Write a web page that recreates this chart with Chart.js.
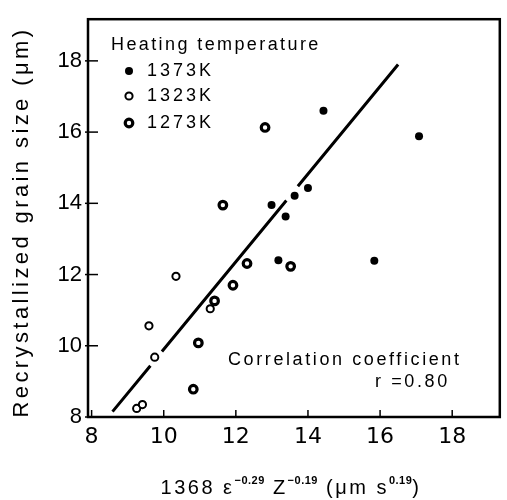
<!DOCTYPE html>
<html>
<head>
<meta charset="utf-8">
<script src="https://cdn.jsdelivr.net/npm/chart.js@4.4.1/dist/chart.umd.min.js"></script>
<style>
  html, body { margin: 0; padding: 0; background: #fff; }
  #wrap { width: 507px; height: 500px; }
</style>
</head>
<body>
<div id="wrap"><canvas id="chart" width="507" height="500"></canvas></div>
<script>
// tick labels
const xTicks = [8, 10, 12, 14, 16, 18];
const yTicks = [8, 10, 12, 14, 16, 18];

// 1373K (filled dots)
const hotX = [12.99, 13.38, 13.63, 14.00, 13.18, 15.84, 14.43, 17.08];
const hotY = [13.95, 13.63, 14.21, 14.43, 12.40, 12.39, 16.60, 15.88];

// 1323K (thin rings)
const midX = [10.34, 11.29, 9.59, 9.75, 9.25, 9.41];
const midY = [11.95, 11.04, 10.56, 9.68, 8.24, 8.35];

// 1273K (heavy rings)
const lowX = [11.64, 12.81, 13.52, 12.31, 11.92, 10.96, 10.82, 11.41];
const lowY = [13.95, 16.13, 12.23, 12.31, 11.70, 10.08, 8.78, 11.26];

// fitted line, broken where it passes the markers (null = gap)
const fitX = [8.58, 9.63, 9.80, 9.95, 13.40, 13.55, 13.72, 16.50];
const fitY = [8.15, 9.44, null, 9.84, 14.08, null, 14.48, 17.90];

const FONT = '"Liberation Sans", Arial, sans-serif';

function pts(xs, ys) {
    return xs.map((x, i) => ({ x: x, y: ys[i] }));
}

function marker(ctx, kind, x, y) {
    ctx.save();
    ctx.strokeStyle = '#000';
    ctx.fillStyle = kind === 'hot' ? '#000' : '#fff';
    ctx.lineWidth = kind === 'low' ? 3.2 : 2;
    const r = kind === 'hot' ? 4 : (kind === 'low' ? 3.8 : 3.6);
    ctx.beginPath();
    ctx.arc(x, y, r, 0, Math.PI * 2);
    ctx.fill();
    if (kind !== 'hot') ctx.stroke();
    ctx.restore();
}

// text with superscripts: parts = [[text, isSup], ...]
function richText(ctx, parts, cx, baseY, size, supSize) {
    ctx.save();
    ctx.textBaseline = 'alphabetic';
    ctx.textAlign = 'left';
    const setFont = p => {
        ctx.font = (p[1] ? 'bold ' + supSize : size) + 'px ' + FONT;
        ctx.letterSpacing = p[1] ? '0.5px' : '2.5px';
    };
    let total = 0;
    const widths = parts.map(p => {
        setFont(p);
        const w = ctx.measureText(p[0]).width;
        total += w;
        return w;
    });
    let x = cx - total / 2;
    parts.forEach((p, i) => {
        setFont(p);
        ctx.fillText(p[0], x, p[1] ? baseY - 10 : baseY);
        x += widths[i];
    });
    ctx.restore();
}

const decor = {
    id: 'decor',
    afterDraw(chart) {
        const ctx = chart.ctx;
        const a = chart.chartArea;
        const xs = chart.scales.x, ys = chart.scales.y;

        ctx.save();
        ctx.strokeStyle = '#000';
        ctx.lineWidth = 2.5;
        ctx.strokeRect(a.left, a.top, a.right - a.left, a.bottom - a.top);

        // inner ticks
        ctx.lineWidth = 1.5;
        xTicks.forEach(v => {
            const px = xs.getPixelForValue(v);
            ctx.beginPath();
            ctx.moveTo(px, a.bottom);
            ctx.lineTo(px, a.bottom - 7);
            ctx.stroke();
        });
        yTicks.forEach(v => {
            const py = ys.getPixelForValue(v);
            ctx.beginPath();
            ctx.moveTo(a.left - 3, py);
            ctx.lineTo(a.left + 10, py);
            ctx.stroke();
        });

        ctx.fillStyle = '#000';
        ctx.textBaseline = 'middle';
        ctx.textAlign = 'left';

        // legend
        ctx.font = '18px ' + FONT;
        ctx.letterSpacing = '2.4px';
        ctx.fillText('Heating temperature', 111, 45);
        const legend = [['hot', '1373K', 71], ['mid', '1323K', 96], ['low', '1273K', 123]];
        ctx.letterSpacing = '3px';
        legend.forEach(l => {
            marker(ctx, l[0], 129, l[2]);
            ctx.fillText(l[1], 147, l[2]);
        });

        // correlation note
        ctx.letterSpacing = '2.6px';
        ctx.fillText('Correlation coefficient', 228, 360);
        ctx.fillText('r =0.80', 375, 382);

        // y title
        ctx.save();
        ctx.translate(22, 222);
        ctx.rotate(-Math.PI / 2);
        ctx.textAlign = 'center';
        ctx.font = '22px ' + FONT;
        ctx.letterSpacing = '3.4px';
        ctx.fillText('Recrystallized grain size (\u03bcm)', 0, 0);
        ctx.restore();
        ctx.letterSpacing = '0px';
        ctx.restore();

        // x title
        richText(ctx, [
            ['1368 \u03b5', false], ['\u22120.29', true], [' Z', false], ['\u22120.19', true],
            [' (\u03bcm s', false], ['0.19', true], [')', false]
        ], 291, 494, 20, 11);
    }
};

new Chart(document.getElementById('chart'), {
    type: 'scatter',
    data: {
        datasets: [
            {
                label: '1373K',
                data: pts(hotX, hotY),
                pointRadius: 4,
                pointBorderWidth: 0,
                backgroundColor: '#000',
                borderColor: '#000'
            },
            {
                label: '1323K',
                data: pts(midX, midY),
                pointRadius: 3.6,
                pointBorderWidth: 2,
                backgroundColor: '#fff',
                borderColor: '#000'
            },
            {
                label: '1273K',
                data: pts(lowX, lowY),
                pointRadius: 3.8,
                pointBorderWidth: 3.2,
                backgroundColor: '#fff',
                borderColor: '#000'
            },
            {
                label: 'fit',
                data: pts(fitX, fitY),
                showLine: true,
                spanGaps: false,
                pointRadius: 0,
                borderWidth: 3,
                borderColor: '#000'
            }
        ]
    },
    options: {
        responsive: false,
        animation: false,
        layout: { padding: { top: 15, right: 2, left: 0, bottom: 0 } },
        plugins: {
            legend: { display: false },
            tooltip: { enabled: false }
        },
        scales: {
            x: {
                type: 'linear',
                min: 7.9,
                max: 19.32,
                afterBuildTicks: s => { s.ticks = xTicks.map(v => ({ value: v })); },
                afterFit: s => { s.height = 83; },
                grid: { drawOnChartArea: false, drawTicks: false },
                border: { display: false },
                ticks: {
                    padding: 7,
                    color: '#000',
                    maxRotation: 0,
                    font: { family: '"DejaVu Sans", sans-serif', size: 22 }
                }
            },
            y: {
                type: 'linear',
                min: 8,
                max: 19.17,
                afterBuildTicks: s => { s.ticks = yTicks.map(v => ({ value: v })); },
                afterFit: s => { s.width = 88; },
                grid: { drawOnChartArea: false, drawTicks: false },
                border: { display: false },
                ticks: {
                    padding: 6,
                    color: '#000',
                    font: { family: FONT, size: 22 }
                }
            }
        }
    },
    plugins: [decor]
});
</script>
</body>
</html>
